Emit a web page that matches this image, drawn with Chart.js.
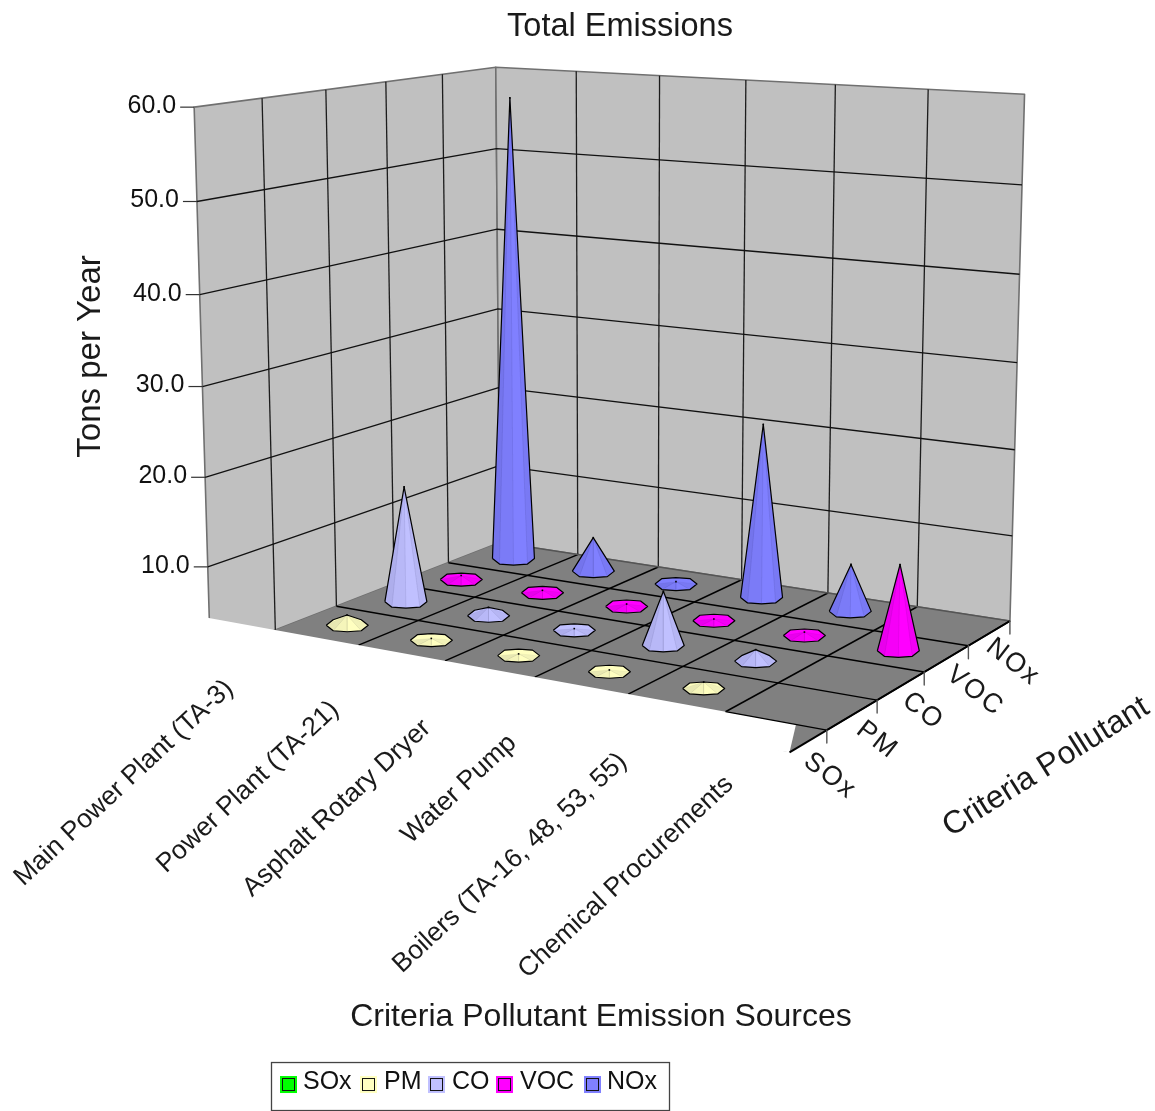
<!DOCTYPE html>
<html>
<head>
<meta charset="utf-8">
<title>Total Emissions</title>
<script src="https://cdn.jsdelivr.net/npm/chart.js@4/dist/chart.umd.min.js"></script>
<style>
  html, body { margin: 0; background: #fff; }
  canvas { display: block; }
</style>
</head>
<body>
<canvas id="emissionsChart" width="1155" height="1111"></canvas>
<script>
// values (tons per year), one entry per source
const sources = ['Main Power Plant (TA-3)', 'Power Plant (TA-21)', 'Asphalt Rotary Dryer', 'Water Pump', 'Boilers (TA-16, 48, 53, 55)', 'Chemical Procurements'];
const pollutants = ['SOx', 'PM', 'CO', 'VOC', 'NOx'];
const soxValues = [0, 0, 0, 0, 0, 0];
const pmValues = [1.2, 0.2, 0.2, 0.2, 0.7, 0];
const coValues = [13.8, 1.0, 0.2, 6.2, 1.3, 0];
const vocValues = [0.5, 0.3, 0.3, 0.2, 0.4, 9.8];
const noxValues = [57.0, 4.2, 0.3, 20.8, 5.6, 0];
const valueTicks = [10, 20, 30, 40, 50, 60];

const seriesValues = [soxValues, pmValues, coValues, vocValues, noxValues];
const seriesColors = ['#00ff00', '#ffffc0', '#c0c0ff', '#ff00ff', '#8080ff'];
const zMax = 60;
const uMax = sources.length;
const vMax = pollutants.length;

// text placement, in page pixels
const sourceLabelAt = [[124, 783], [248, 787], [337, 808], [459, 789], [510, 863], [626, 877]];
const pollutantLabelAt = [[830, 776], [877, 740], [923, 711], [975, 691], [1013, 662]];
const legendSwatchX = [280, 360, 428, 496, 584];
const legendTextX = [303, 384, 452, 520, 607];

// camera: fitted to where the box corners sit in the picture
const anchors = [
  [0, 5, 0, 497, 545], [0, 5, 0, 497, 545], [6, 5, 0, 1010, 617], [0, 5, 60, 497, 66], [0, 5, 60, 497, 66],
  [6, 5, 60, 1023, 95], [0, 0, 60, 193, 107], [0, 0, 60, 193, 107], [0, 0, 0, 209, 655], [0, 1, 0, 279, 628],
  [0, 1, 0, 279, 628], [0, 2, 0, 337, 606], [0, 3, 0, 392, 583], [0, 4, 0, 449, 561],
  [6, 1, 0, 826, 733], [6, 2, 0, 878, 702], [6, 3, 0, 923, 673], [6, 4, 0, 968, 645], [3, 5, 0, 745, 580],
  [0, 0, 30, 201, 385], [6, 5, 30, 1017, 358],
  [1, 5, 60, 577, 71], [3, 5, 60, 745, 81], [5, 5, 60, 930, 89]
];

function fitCamera() {
  const n = 11;
  const A = [], b = [];
  for (let i = 0; i < n; i++) { A.push(new Array(n).fill(0)); b.push(0); }
  const add = (row, rhs) => {
    for (let i = 0; i < n; i++) {
      for (let j = 0; j < n; j++) A[i][j] += row[i] * row[j];
      b[i] += row[i] * rhs;
    }
  };
  anchors.forEach(([u, v, z, px, py]) => {
    const w = z / 10, x = px / 1000, y = py / 1000;
    add([u, v, w, 1, 0, 0, 0, 0, -x * u, -x * v, -x * w], x);
    add([0, 0, 0, 0, u, v, w, 1, -y * u, -y * v, -y * w], y);
  });
  for (let i = 0; i < n; i++) {
    let p = i;
    for (let r = i + 1; r < n; r++) if (Math.abs(A[r][i]) > Math.abs(A[p][i])) p = r;
    [A[i], A[p]] = [A[p], A[i]];
    [b[i], b[p]] = [b[p], b[i]];
    for (let r = i + 1; r < n; r++) {
      const f = A[r][i] / A[i][i];
      for (let c = i; c < n; c++) A[r][c] -= f * A[i][c];
      b[r] -= f * b[i];
    }
  }
  const m = new Array(n).fill(0);
  for (let i = n - 1; i >= 0; i--) {
    let s = b[i];
    for (let c = i + 1; c < n; c++) s -= A[i][c] * m[c];
    m[i] = s / A[i][i];
  }
  return m;
}
const cam = fitCamera();

function project(u, v, z) {
  const w = z / 10;
  const d = cam[8] * u + cam[9] * v + cam[10] * w + 1;
  return {
    x: 1000 * (cam[0] * u + cam[1] * v + cam[2] * w + cam[3]) / d,
    y: 1000 * (cam[4] * u + cam[5] * v + cam[6] * w + cam[7]) / d
  };
}

const layers = [];
function addLine(points, color, width) {
  layers.push({ type: 'scatter', data: points, showLine: true, fill: false, borderColor: color, borderWidth: width,
    pointRadius: 0, tension: 0, clip: false, borderJoinStyle: 'round' });
}
function addShape(points, fillColor, color, width) {
  const closed = points.concat([points[0]]);
  layers.push({ type: 'scatter', data: closed, showLine: true, fill: 'shape', backgroundColor: fillColor,
    borderColor: color || fillColor, borderWidth: width === undefined ? 0 : width,
    pointRadius: 0, tension: 0, clip: false, borderJoinStyle: 'round' });
}

function hull(pts) {
  const s = pts.slice().sort((a, b) => a.x - b.x || a.y - b.y);
  const cross = (o, a, b) => (a.x - o.x) * (b.y - o.y) - (a.y - o.y) * (b.x - o.x);
  const half = list => {
    const out = [];
    list.forEach(p => {
      while (out.length > 1 && cross(out[out.length - 2], out[out.length - 1], p) <= 0) out.pop();
      out.push(p);
    });
    out.pop();
    return out;
  };
  return half(s).concat(half(s.reverse()));
}

// box
const wallFill = '#c0c0c0', wallEdge = '#707070', floorFill = '#808080';
const floorFront = 0.3; // the floor stops short of v=0 at the corner
addShape([project(0, 0, 0), project(0, 5, 0), project(0, 5, zMax), project(0, 0, zMax)], wallFill, wallEdge, 1.6);
addShape([project(0, 5, 0), project(6, 5, 0), project(6, 5, zMax), project(0, 5, zMax)], wallFill, wallEdge, 1.6);
for (let v = 1; v < vMax; v++) addLine([project(0, v, 0), project(0, v, zMax)], '#1c1c1c', 1.3);
for (let u = 1; u < uMax; u++) addLine([project(u, 5, 0), project(u, 5, zMax)], '#1c1c1c', 1.3);
valueTicks.forEach(z => {
  if (z === zMax) return;
  addLine([project(0, 0, z), project(0, 5, z), project(6, 5, z)], '#111111', 1.3);
});

addShape([project(0, floorFront, 0), project(6, floorFront, 0), project(6, 5, 0), project(0, 5, 0)], floorFill);
for (let v = 2; v < vMax; v++) addLine([project(0, v, 0), project(6, v, 0)], '#000000', 1.5);
for (let u = 1; u <= uMax; u++) addLine([project(u, 1, 0), project(u, 5, 0)], '#000000', 1.5);
addLine([project(0, 5, 0), project(6, 5, 0)], '#555555', 1.5);

// the SOx row is blanked out in the picture, only a sliver of floor remains at the corner
addShape([project(-1, 1, 0), project(5.7, 1, 0), project(6, floorFront, 0), project(-1, -1, 0)], '#ffffff');
addLine([project(5, 1, 0), project(6, 1, 0)], '#000000', 1.3);
addLine([project(6, 5, 0), project(6, floorFront, 0)], '#000000', 2);
for (let v = 1; v <= vMax; v++) {
  const p = project(6, v, 0);
  addLine([p, { x: p.x, y: p.y + 13 }], '#555555', 1.4);
}

// y ticks
valueTicks.forEach(z => {
  const p = project(0, 0, z);
  addLine([{ x: p.x - 14, y: p.y }, p], '#333333', 1.2);
});

// cones, back row first
const baseShape = [[-21, 0], [-14, -5.5], [0, -6.5], [14, -5.5], [21, 0], [14, 5.5], [0, 6.5], [-14, 5.5]];
const frontEdge = [[-21, 0], [-14, 5.5], [0, 6.5], [14, 5.5], [21, 0]];
const facetShade = [0.09, 0.04, 0, 0.05];
for (let s = seriesValues.length - 1; s >= 0; s--) {
  seriesValues[s].forEach((val, u) => {
    if (!val) return;
    const c = project(u + 0.5, s + 0.5, 0);
    const apex = project(u + 0.5, s + 0.5, val);
    const base = baseShape.map(o => ({ x: c.x + o[0], y: c.y + o[1] }));
    addShape(hull(base.concat([apex])), seriesColors[s]);
    for (let i = 0; i < frontEdge.length - 1; i++) {
      const a = frontEdge[i], b = frontEdge[i + 1];
      addShape([apex, { x: c.x + a[0], y: c.y + a[1] }, { x: c.x + b[0], y: c.y + b[1] }],
        'rgba(0,0,40,' + facetShade[i] + ')', 'rgba(0,0,40,0.07)', 0.6);
    }
    addShape(hull(base.concat([apex])), 'rgba(0,0,0,0)', '#000000', 1.2);
    addLine([{ x: apex.x - 0.8, y: apex.y }, { x: apex.x + 0.8, y: apex.y }], '#000000', 1.6);
  });
}

// chart.js paints the first dataset last
const datasets = layers.slice().reverse();

const FONT = '"Liberation Sans", Arial, sans-serif';
const textAndLegend = {
  id: 'textAndLegend',
  afterDatasetsDraw(chart) {
    const { ctx, scales } = chart;
    const X = v => scales.x.getPixelForValue(v);
    const Y = v => scales.y.getPixelForValue(v);
    const rotated = (str, x, y, deg, size, spacing) => {
      ctx.save();
      ctx.translate(X(x), Y(y));
      ctx.rotate(deg * Math.PI / 180);
      ctx.font = size + 'px ' + FONT;
      ctx.letterSpacing = (spacing || 0) + 'px';
      ctx.textAlign = 'center';
      ctx.textBaseline = 'middle';
      ctx.fillStyle = '#1a1a1a';
      ctx.fillText(str, 0, 0);
      ctx.restore();
    };

    valueTicks.forEach(z => {
      const p = project(0, 0, z);
      ctx.font = '25px ' + FONT;
      ctx.textAlign = 'right';
      ctx.textBaseline = 'middle';
      ctx.fillStyle = '#111111';
      ctx.fillText(z.toFixed(1), X(p.x - 18), Y(p.y - 1));
    });
    rotated('Tons per Year', 91, 356, -90, 33);
    rotated('Criteria Pollutant Emission Sources', 601, 1017, 0, 32);
    rotated('Criteria Pollutant', 1046, 767, -32, 32);
    sources.forEach((name, i) => rotated(name, sourceLabelAt[i][0], sourceLabelAt[i][1], -43, 26.5));
    pollutants.forEach((name, i) => rotated(name, pollutantLabelAt[i][0], pollutantLabelAt[i][1], 38, 27, 2));

    // legend
    ctx.strokeStyle = '#444444';
    ctx.lineWidth = 1.3;
    ctx.strokeRect(X(271.5), Y(1062.5), 398, 48);
    pollutants.forEach((name, i) => {
      const sx = X(legendSwatchX[i]), sy = Y(1076);
      ctx.fillStyle = seriesColors[i];
      ctx.fillRect(sx, sy, 17, 17);
      ctx.strokeStyle = '#111111';
      ctx.lineWidth = 1;
      ctx.strokeRect(sx + 2.5, sy + 2.5, 12, 12);
      ctx.fillStyle = '#111111';
      ctx.font = '25px ' + FONT;
      ctx.textAlign = 'left';
      ctx.textBaseline = 'alphabetic';
      ctx.fillText(name, X(legendTextX[i]), Y(1089));
    });
  }
};

const TITLE_HEIGHT = 46.4;
new Chart(document.getElementById('emissionsChart'), {
  type: 'scatter',
  data: { datasets: datasets },
  options: {
    responsive: false,
    animation: false,
    layout: { padding: { left: 85, right: 0, top: 0, bottom: 0 } },
    scales: {
      x: { type: 'linear', display: false, min: 85, max: 1155 },
      y: { type: 'linear', display: false, reverse: true, min: TITLE_HEIGHT, max: 1111 }
    },
    plugins: {
      legend: { display: false },
      tooltip: { enabled: false },
      title: {
        display: true,
        text: 'Total Emissions',
        color: '#1a1a1a',
        font: { family: FONT, size: 32.5, weight: 'normal' },
        padding: { top: 8, bottom: 0 }
      }
    }
  },
  plugins: [textAndLegend]
});
</script>
</body>
</html>
